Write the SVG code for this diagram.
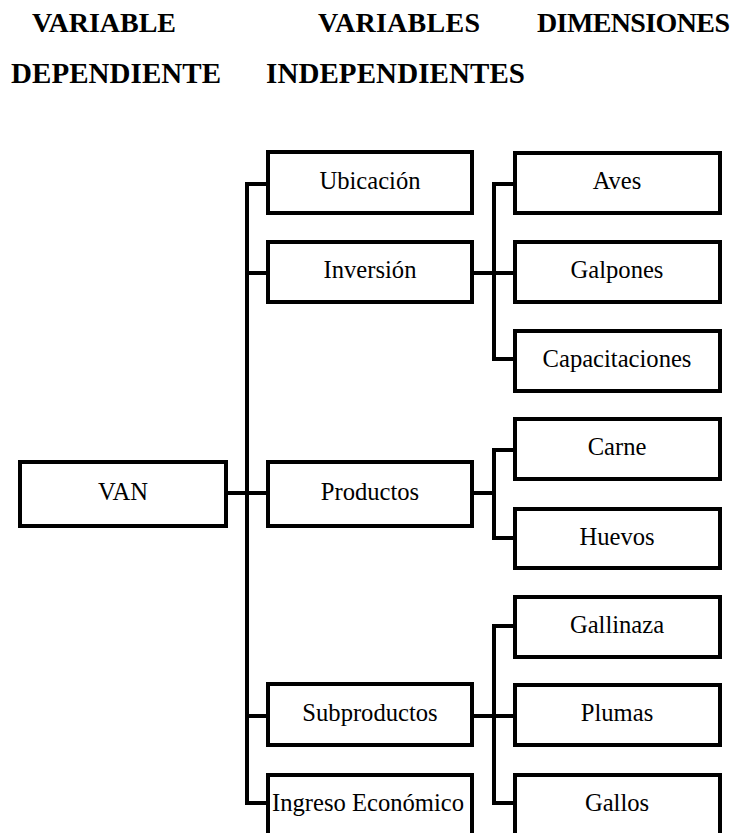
<svg xmlns="http://www.w3.org/2000/svg" width="732" height="833" viewBox="0 0 732 833">
<style>
.box{fill:#fff;stroke:#000;stroke-width:4}
.lbl{font-family:'Liberation Serif','Times New Roman',Tinos,'DejaVu Serif',serif;font-size:24.6px;fill:#000;text-anchor:middle}
.hdr{font-family:'Liberation Serif','Times New Roman',Tinos,'DejaVu Serif',serif;font-weight:bold;font-size:28px;fill:#000}
.con{fill:none;stroke:#000;stroke-width:4;stroke-linecap:butt;stroke-linejoin:miter}
</style>
<rect width="732" height="833" fill="#fff"/>
<g id="headers">
<text class="hdr" x="32" y="32" textLength="144">VARIABLE</text>
<text class="hdr" x="318" y="32" textLength="162">VARIABLES</text>
<text class="hdr" x="537" y="32" textLength="193">DIMENSIONES</text>
<text class="hdr" x="11" y="83" textLength="210" style="font-size:29px">DEPENDIENTE</text>
<text class="hdr" x="266" y="83" textLength="259" style="font-size:29px">INDEPENDIENTES</text>
</g>
<g id="connectors">
<path class="con" d="M266 184H247V803H266M247 273H266M228 493H266M247 716H266"/>
<path class="con" d="M513 184H494V359H513M474 273H513"/>
<path class="con" d="M513 450H494V538H513M474 493H494"/>
<path class="con" d="M513 626H494V803H513M474 716H513"/>
</g>
<g id="van"><rect class="box" x="20" y="462" width="206" height="64"/><text class="lbl" x="123" y="500">VAN</text></g>
<g id="ubicacion"><rect class="box" x="268" y="152" width="204" height="61"/><text class="lbl" x="370" y="189">Ubicación</text></g>
<g id="inversion"><rect class="box" x="268" y="242" width="204" height="60"/><text class="lbl" x="370" y="278">Inversión</text></g>
<g id="productos"><rect class="box" x="268" y="462" width="204" height="64"/><text class="lbl" x="370" y="500">Productos</text></g>
<g id="subproductos"><rect class="box" x="268" y="684" width="204" height="61"/><text class="lbl" x="370" y="721">Subproductos</text></g>
<g id="ingreso"><rect class="box" x="268" y="775" width="204" height="80"/><text class="lbl" x="368" y="811">Ingreso Económico</text></g>
<g id="aves"><rect class="box" x="515" y="153" width="205" height="60"/><text class="lbl" x="617" y="189">Aves</text></g>
<g id="galpones"><rect class="box" x="515" y="242" width="205" height="60"/><text class="lbl" x="617" y="278">Galpones</text></g>
<g id="capacitaciones"><rect class="box" x="515" y="331" width="205" height="60"/><text class="lbl" x="617" y="367">Capacitaciones</text></g>
<g id="carne"><rect class="box" x="515" y="419" width="205" height="60"/><text class="lbl" x="617" y="455">Carne</text></g>
<g id="huevos"><rect class="box" x="515" y="509" width="205" height="59"/><text class="lbl" x="617" y="545">Huevos</text></g>
<g id="gallinaza"><rect class="box" x="515" y="597" width="205" height="60"/><text class="lbl" x="617" y="633">Gallinaza</text></g>
<g id="plumas"><rect class="box" x="515" y="685" width="205" height="60"/><text class="lbl" x="617" y="721">Plumas</text></g>
<g id="gallos"><rect class="box" x="515" y="775" width="205" height="80"/><text class="lbl" x="617" y="811">Gallos</text></g>
</svg>
